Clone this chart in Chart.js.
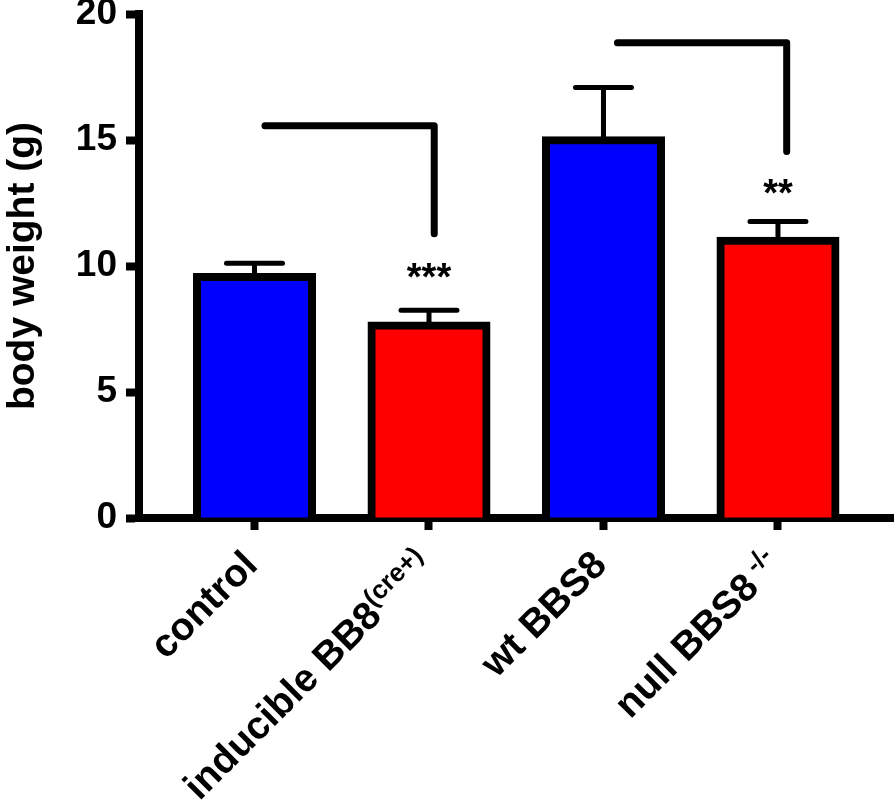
<!DOCTYPE html>
<html>
<head>
<meta charset="utf-8">
<script src="https://cdn.jsdelivr.net/npm/chart.js@4"></script>
<style>
  html, body { margin: 0; padding: 0; background: #fff; }
</style>
</head>
<body>
<canvas id="chart" width="894" height="802"></canvas>
<script>
// Body weight per group
const categories = ['control', 'inducible BB8', 'wt BBS8', 'null BBS8'];
const superscripts = ['', '(cre+)', '', ' -/-'];
const means = [9.56, 7.64, 14.99, 11.0];
const errors = [0.55, 0.60, 2.09, 0.77];
const yTicks = [0, 5, 10, 15, 20];

// Significance marks (baseline value in g)
const sigMarks = ['', '***', '', '**'];
const sigY = [null, 9.05, null, 12.39];

// Comparison brackets (x in group index, y in g)
const bracketFrom = [0.06, 2.08];
const bracketTo = [1.03, 3.05];
const bracketTop = [15.57, 18.86];
const bracketBottom = [11.28, 14.54];

const FONT = '"Liberation Sans", Arial, Helvetica, sans-serif';

// Error bars, stars, brackets and rotated group labels
const annotations = {
    id: 'annotations',
    afterDraw(chart) {
        const ctx = chart.ctx;
        const xs = chart.scales.x;
        const ys = chart.scales.y;
        const area = chart.chartArea;

        ctx.save();
        ctx.strokeStyle = '#000';
        ctx.fillStyle = '#000';
        ctx.lineCap = 'round';

        // error bars (upper only)
        ctx.lineWidth = 5;
        means.forEach((m, i) => {
            const x = xs.getPixelForValue(i);
            const y1 = ys.getPixelForValue(m);
            const y2 = ys.getPixelForValue(m + errors[i]);
            ctx.beginPath();
            ctx.moveTo(x, y1);
            ctx.lineTo(x, y2);
            ctx.moveTo(x - 28, y2);
            ctx.lineTo(x + 28, y2);
            ctx.stroke();
        });

        // brackets
        ctx.lineWidth = 7;
        ctx.lineJoin = 'round';
        bracketFrom.forEach((f, i) => {
            ctx.beginPath();
            ctx.moveTo(xs.getPixelForValue(f), ys.getPixelForValue(bracketTop[i]));
            ctx.lineTo(xs.getPixelForValue(bracketTo[i]), ys.getPixelForValue(bracketTop[i]));
            ctx.lineTo(xs.getPixelForValue(bracketTo[i]), ys.getPixelForValue(bracketBottom[i]));
            ctx.stroke();
        });

        // stars
        ctx.font = 'bold 38px ' + FONT;
        ctx.textAlign = 'center';
        ctx.textBaseline = 'alphabetic';
        sigMarks.forEach((s, i) => {
            if (!s) return;
            ctx.fillText(s, xs.getPixelForValue(i), ys.getPixelForValue(sigY[i]));
        });

        // group labels, rotated 45 deg
        categories.forEach((c, i) => {
            const x = xs.getPixelForValue(i);
            ctx.save();
            ctx.translate(x + 5, area.bottom + 49);
            ctx.rotate(-Math.PI / 4);
            ctx.textAlign = 'left';
            ctx.font = 'bold 26px ' + FONT;
            const supW = superscripts[i] ? ctx.measureText(superscripts[i]).width : 0;
            ctx.font = 'bold 39px ' + FONT;
            const mainW = ctx.measureText(c).width;
            ctx.fillText(c, -(mainW + supW), 0);
            if (superscripts[i]) {
                ctx.font = 'bold 26px ' + FONT;
                ctx.fillText(superscripts[i], -supW, -14);
            }
            ctx.restore();
        });

        ctx.restore();
    }
};

const ctx = document.getElementById('chart');
new Chart(ctx, {
    type: 'bar',
    data: {
        datasets: [{
            data: means.map((v, i) => ({ x: i, y: v })),
            backgroundColor: ['#0000ff', '#ff0000', '#0000ff', '#ff0000'],
            borderColor: '#000',
            borderWidth: 8,
            borderSkipped: 'start',
            inflateAmount: 4,
            barThickness: 115
        }]
    },
    options: {
        responsive: false,
        animation: false,
        devicePixelRatio: 1,
        layout: { padding: { top: 14, left: 0, right: 0, bottom: 0 } },
        plugins: {
            legend: { display: false },
            tooltip: { enabled: false }
        },
        scales: {
            x: {
                type: 'linear',
                min: -0.662,
                max: 3.665,
                offset: false,
                z: 1,
                border: { display: true, color: '#000', width: 8 },
                grid: { offset: false, drawOnChartArea: false, drawTicks: true, tickLength: 12, tickWidth: 8, tickColor: '#000' },
                ticks: { display: false },
                afterBuildTicks: s => { s.ticks = categories.map((c, i) => ({ value: i })); },
                afterFit: s => {
                    s.height = 284;
                    s.paddingLeft = 0;
                    s.paddingRight = 0;
                }
            },
            y: {
                min: 0,
                max: 20,
                border: { display: true, color: '#000', width: 8 },
                grid: { drawOnChartArea: false, drawTicks: true, tickLength: 13, tickWidth: 8, tickColor: '#000' },
                ticks: {
                    color: '#000',
                    padding: 9,
                    font: { family: FONT, size: 37, weight: 'bold' }
                },
                afterBuildTicks: s => { s.ticks = yTicks.map(v => ({ value: v })); },
                title: {
                    display: true,
                    text: 'body weight (g)',
                    color: '#000',
                    padding: 0,
                    font: { family: FONT, size: 39, weight: 'bold' }
                },
                afterFit: s => {
                    s.width = 139;
                    s.paddingTop = 0;
                    s.paddingBottom = 0;
                }
            }
        }
    },
    plugins: [annotations]
});
</script>
</body>
</html>
